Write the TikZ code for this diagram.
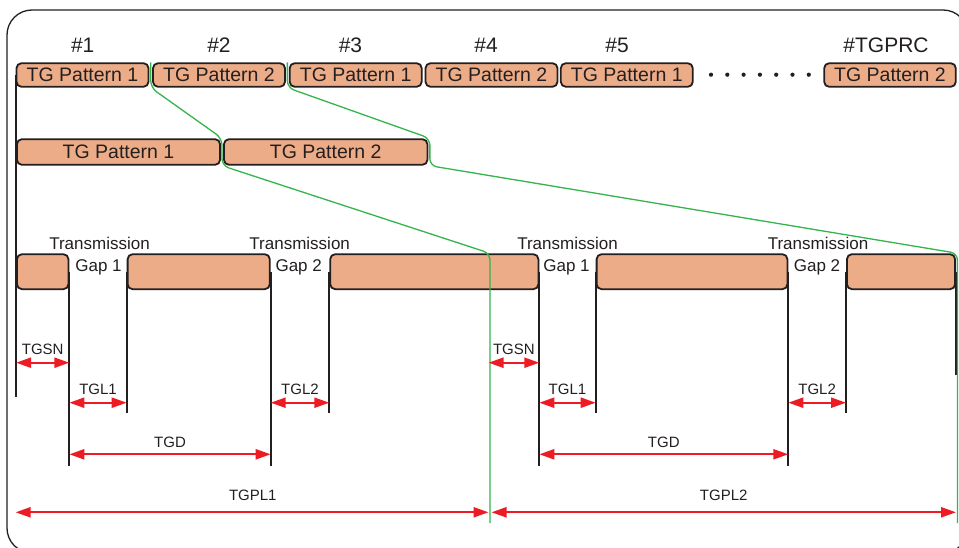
\documentclass[tikz,border=0pt]{standalone}
\usepackage{fontspec}
\setmainfont{Liberation Sans}
\usepackage{tikz}
\usetikzlibrary{arrows.meta,positioning,calc}
\definecolor{tgfill}{RGB}{237,172,136}
\definecolor{tgline}{RGB}{35,31,32}
\definecolor{tggreen}{RGB}{52,180,74}
\definecolor{tgred}{RGB}{237,28,36}
\newcommand\tgfont{\fontsize{19.5}{22}\selectfont}
\newcommand\numfont{\fontsize{21}{24}\selectfont}
\newcommand\gapfont{\fontsize{17}{20}\selectfont}
\newcommand\dimfont{\fontsize{15}{18}\selectfont}

\begin{document}
\begin{tikzpicture}[x=1pt,y=-1pt,>=Stealth,
  tgbox/.style={draw=tgline,fill=tgfill,line width=1.8pt,rounded corners=5pt,inner sep=0pt,text=tgline,font=\tgfont},
  vline/.style={tgline,line width=1.8pt},
  dim/.style={tgred,line width=2.2pt,{Triangle[length=15pt,width=10pt]}-{Triangle[length=15pt,width=10pt]}},
  lbl/.style={text=tgline,font=\dimfont,inner sep=0pt},
  gline/.style={tggreen,line width=1.3pt,rounded corners=7pt}]
  \clip (0,0) rectangle (959,548);
  % outer frame
  \draw[tgline,line width=1.3pt,rounded corners=25pt] (7,10) rectangle (968,553);

  % repetition of the patterns
  \foreach \i/\cx/\nx/\p in {1/82.5/82.7/1,2/219/219/2,3/355.7/350.5/1,4/491.5/486/2,5/626.8/617/1} {
    \node[tgbox,minimum width=132pt,minimum height=23.6pt] (top\i) at (\cx,75) {TG Pattern \p};
    \node[text=tgline,font=\numfont,inner sep=0pt,anchor=base] (num\i) at (\nx,53) {\#\i};
  }
  \node[tgbox,minimum width=131.6pt,minimum height=23.6pt] (topn) at (890,75) {TG Pattern 2};
  \node[text=tgline,font=\numfont,inner sep=0pt,anchor=base] (numn) at (886,53) {\#TGPRC};
  \foreach \k in {0,...,6}
    \fill[tgline] ({711+\k*16.3},74.7) circle (2.1pt);

  % the two patterns
  \node[tgbox,minimum width=203.2pt,minimum height=25.6pt] (mid1) at (118.5,152) {TG Pattern 1};
  \node[tgbox,minimum width=203.5pt,minimum height=25.6pt] (mid2) at (325.7,152) {TG Pattern 2};

  % transmission slots
  \foreach \n/\cx/\w in {ga/42.7/51.5,gb/198.7/142.2,gc/434.3/208.2,gd/692/190.8,ge/901/108.2}
    \node[tgbox,minimum width=\w pt,minimum height=35pt] (\n) at (\cx,271.7) {};
  \foreach \gx/\g [count=\k] in {99.5/1,299.7/2,567.5/1,818/2} {
    \node[text=tgline,font=\gapfont,inner sep=0pt,anchor=base] (trans\k) at (\gx,250) {Transmission};
    \node[text=tgline,font=\gapfont,inner sep=0pt,anchor=base] (gap\k) at (\gx-1,271.7) {Gap \g};
  }

  % slot edges
  \draw[vline] (top1.west) -- (top1.west |- 0,397);
  \foreach \n in {ga,gb,gc,gd}
    \draw[vline] (\n.east) -- (\n.east |- 0,466);
  \foreach \n in {gb,gc,gd,ge}
    \draw[vline] (\n.west) -- (\n.west |- 0,413);
  \draw[vline] (ge.east) -- (ge.east |- 0,375);

  % pattern boundaries
  \coordinate (gbot1) at (490,523);
  \coordinate (gbot2) at (957.5,523);
  \draw[gline] ($(top1.north east)!0.5!(top2.north west)$) -- ($(top1.south east)!0.5!(top2.south west)$)
    -- ($(mid1.north east)!0.5!(mid2.north west)$) -- ($(mid1.south east)!0.5!(mid2.south west)$)
    -- (gbot1 |- gc.north) -- (gbot1);
  \draw[gline] ($(top2.north east)!0.5!(top3.north west)$) -- ($(top2.south east)!0.5!(top3.south west)$)
    -- ([xshift=1.5pt]mid2.north east) -- ([xshift=1.5pt]mid2.south east)
    -- (gbot2 |- ge.north) -- (gbot2);

  % lengths
  \draw[dim] (ga.west |- 0,362.7) -- (ga.east |- 0,362.7) node[lbl,midway,above=7pt] (tgsn1) {TGSN};
  \draw[dim] ([xshift=-1.5pt]gbot1 |- 0,362.7) -- (gc.east |- 0,362.7) node[lbl,midway,above=7pt] (tgsn2) {TGSN};
  \draw[dim] (ga.east |- 0,402.7) -- (gb.west |- 0,402.7) node[lbl,midway,above=7pt] (tgla) {TGL1};
  \draw[dim] (gb.east |- 0,402.7) -- (gc.west |- 0,402.7) node[lbl,midway,above=7pt] (tglb) {TGL2};
  \draw[dim] (gc.east |- 0,402.7) -- (gd.west |- 0,402.7) node[lbl,midway,above=7pt] (tglc) {TGL1};
  \draw[dim] (gd.east |- 0,402.7) -- (ge.west |- 0,402.7) node[lbl,midway,above=7pt] (tgld) {TGL2};
  \draw[dim] (ga.east |- 0,454.3) -- (gb.east |- 0,454.3) node[lbl,midway,above=6pt] (tgda) {TGD};
  \draw[dim] (gc.east |- 0,454.3) -- (gd.east |- 0,454.3) node[lbl,midway,above=6pt] (tgdb) {TGD};
  \draw[dim,shorten >=1.5pt] (top1.west |- 0,512.3) -- (gbot1 |- 0,512.3) node[lbl,midway,above=11pt] (tgpla) {TGPL1};
  \draw[dim,shorten <=1.5pt,shorten >=1.5pt] (gbot1 |- 0,512.3) -- (gbot2 |- 0,512.3) node[lbl,midway,above=11pt] (tgplb) {TGPL2};
\end{tikzpicture}
\end{document}
